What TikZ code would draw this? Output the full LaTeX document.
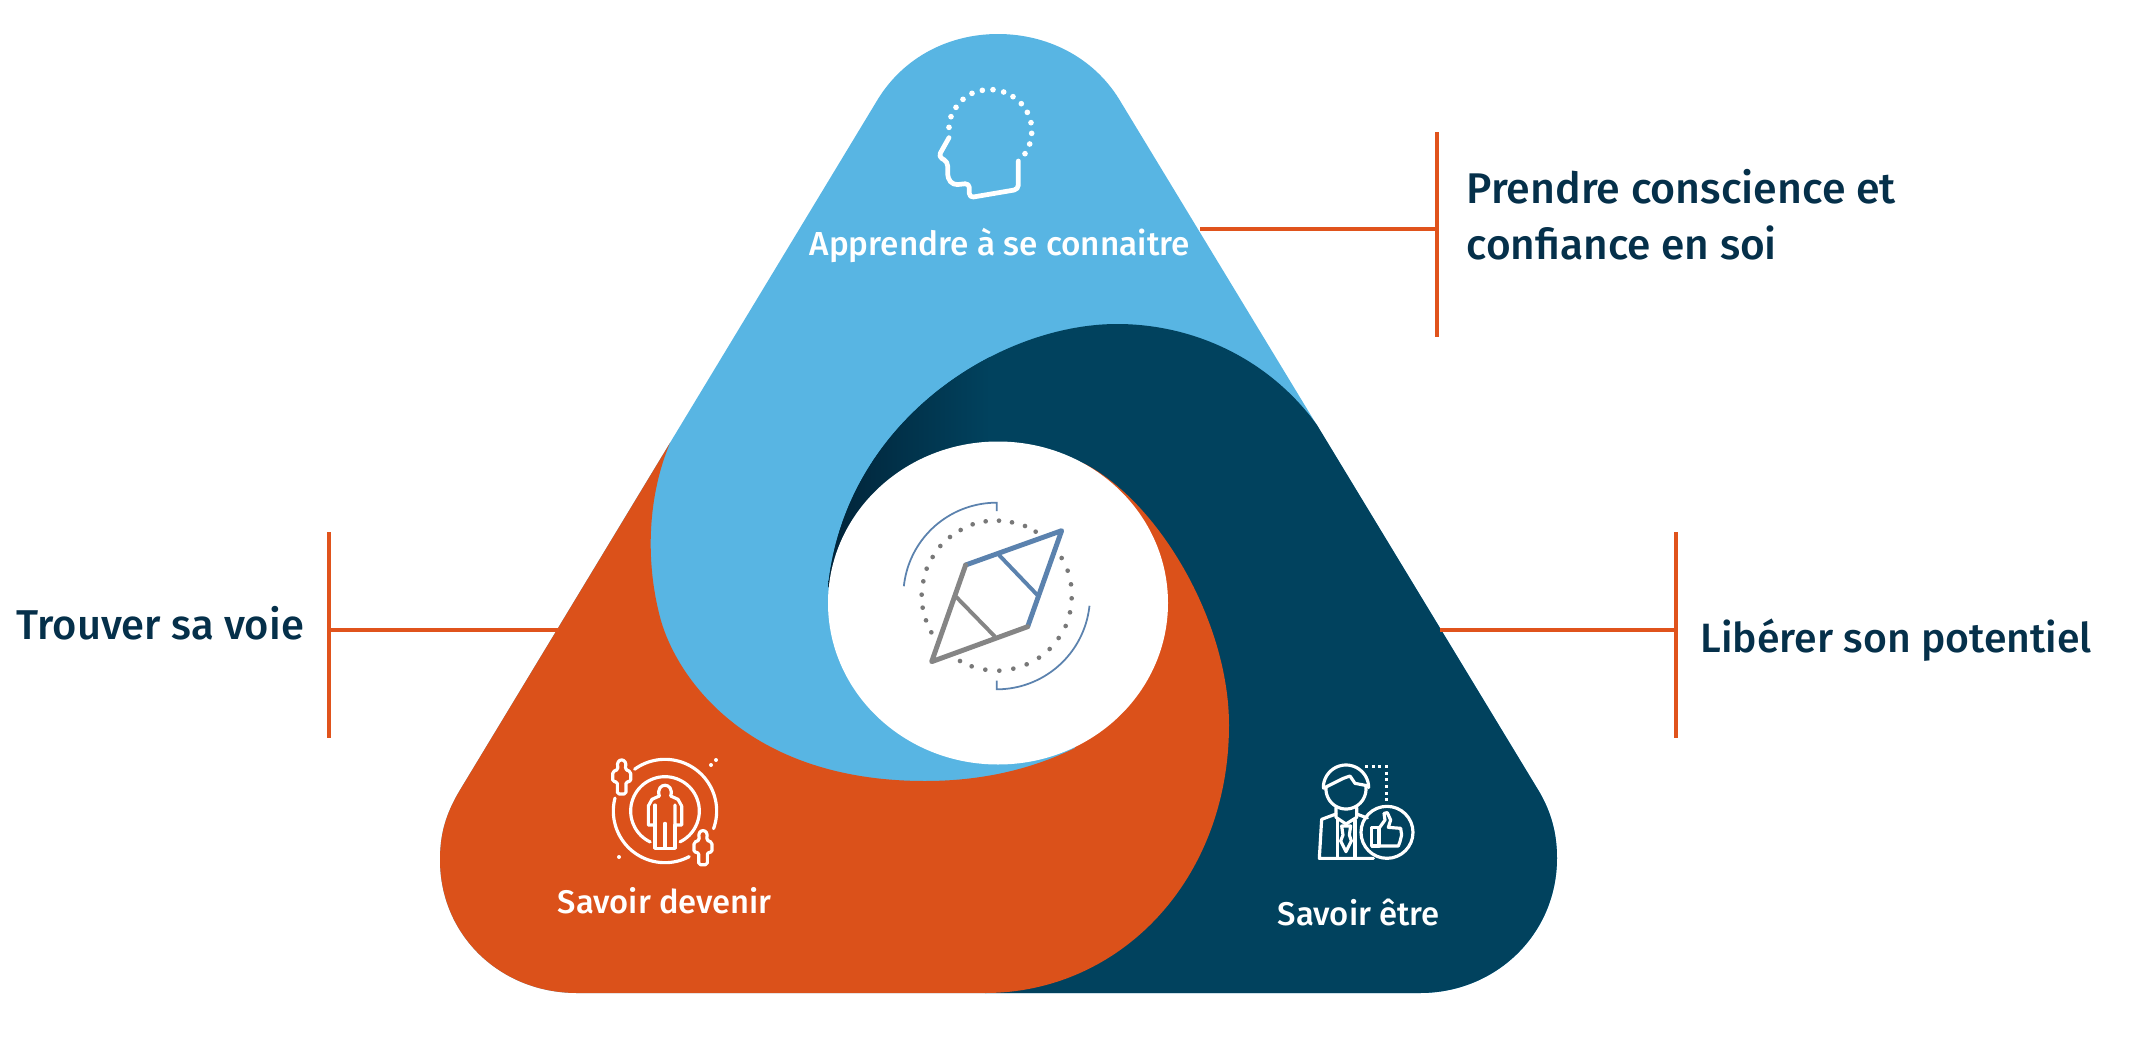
\documentclass[tikz,border=0pt]{standalone}
\usepackage{fontspec}
\usepackage{graphicx}
\setmainfont{Fira Sans Medium}
\definecolor{cblue}{HTML}{58B5E3}
\definecolor{corange}{HTML}{DB511A}
\definecolor{cnavy}{HTML}{01425E}
\definecolor{ctip}{HTML}{012338}
\definecolor{cline}{HTML}{E0531C}
\definecolor{ctext}{HTML}{05304A}
\definecolor{cneedle}{HTML}{5B82AE}
\definecolor{cgrey}{HTML}{858585}
\tikzset{
  bar/.style={draw=cline,line width=1.15pt},
  stub/.style={draw=cline,line width=1.15pt},
  icon/.style={draw=white,line width=0.9pt,line cap=round,line join=round},
  headline/.style={draw=white,line width=1.35pt,line cap=round,line join=round,rounded corners=1.2pt},
  needle/.style={line width=1.4pt,line cap=round,line join=round},
  sidetext/.style={inner sep=0pt,text=ctext,anchor=base west},
  blocktext/.style={inner sep=0pt,text=white,anchor=base west},
}
\newcommand{\fitw}[2]{\resizebox{#1cm}{!}{#2}}
\newcommand{\outerpath}{(878,99) .. controls (904,57) and (949,34) .. (998,34) .. controls (1047,34) and (1093,57) .. (1119,99) -- (1537,788) .. controls (1552,812) and (1557,835) .. (1557,858) .. controls (1557,935) and (1495,993) .. (1420,993) -- (577,993) .. controls (500,993) and (440,935) .. (440,860) .. controls (440,835) and (445,815) .. (460,790) -- cycle}
\newcommand{\navypath}{(1317,425) -- (1537,788) .. controls (1552,812) and (1557,835) .. (1557,858) .. controls (1557,935) and (1495,993) .. (1420,993) -- (985,993) -- (1120,770) -- (1100,600) -- (998,603) -- (828,587) .. controls (845,420) and (1000,324) .. (1117,324) .. controls (1195,324) and (1270,360) .. cycle}
\newcommand{\tinyfig}{%
  \draw[icon,rounded corners=0.5pt] (235,118) .. controls (225,82) and (265,82) .. (255,118) -- (272,125) -- (272,155) -- (258,155) -- (258,192) -- (232,192) -- (232,155) -- (218,155) -- (218,125) -- cycle;}
\begin{document}
\begin{tikzpicture}[x=0.01cm,y=-0.01cm]
\useasboundingbox (0,0) rectangle (2150,1042);
% layers
\fill[cblue] \outerpath;
\fill[cnavy] \navypath;
\begin{scope}
  \clip \navypath;
  \shade[left color=ctip,right color=cnavy] (825,300) rectangle (990,800);
\end{scope}
\fill[corange] (670,443) -- (460,790) .. controls (445,815) and (440,835) .. (440,860) .. controls (440,935) and (500,993) .. (577,993) -- (985,993) .. controls (1120,993) and (1229,880) .. (1229,725) .. controls (1229,620) and (1157,500) .. (1083,463) -- (1100,600) -- (1075,748) .. controls (1030,770) and (980,781) .. (925,781) .. controls (745,781) and (675,675) .. (660,617) .. controls (645,560) and (648,495) .. cycle;
\fill[white] (998,603) ellipse [x radius=170,y radius=161.5];
% connectors
\coordinate (tr1) at (1437,132);
\coordinate (tr2) at (1437,337);
\coordinate (trm) at (1437,229);
\coordinate (tre) at (1200,229);
\coordinate (lf1) at (329,532);
\coordinate (lf2) at (329,738);
\coordinate (lfm) at (329,630);
\coordinate (lfe) at (559,630);
\coordinate (rt1) at (1676,532);
\coordinate (rt2) at (1676,738);
\coordinate (rtm) at (1676,630);
\coordinate (rte) at (1440,630);
\draw[bar] (tr1) -- (tr2);
\draw[stub] (tre) -- (trm);
\draw[bar] (lf1) -- (lf2);
\draw[stub] (lfm) -- (lfe);
\draw[bar] (rt1) -- (rt2);
\draw[stub] (rte) -- (rtm);
% head icon
\begin{scope}[shift={(850,50)},scale=1/3]
  \foreach \p in {(297,232),(303,200),(318,172),(339,148),(366,130),(397,121),(429,119),(461,126),(489,140),(514,161),(532,187),(543,218),(545,250),(539,282),(525,311)}
    \fill[white] \p circle [radius=8.5];
  \draw[headline] (297,263) -- (265,320) -- (293,335) -- (293,385) -- (310,405) -- (358,400) -- (358,443) -- (505,418) -- (505,333);
\end{scope}
% compass
\begin{scope}[shift={(800,420)},scale=1/3]
  \foreach \p in {(597,302),(636,307),(675,318),(707,335),(785,414),(803,452),(813,493),(815,535),(810,577),(797,618),(776,654),(749,687),(717,713),(680,733),(640,746),(598,752),(556,749),(515,739),(480,723),(394,637),(378,601),(368,563),(365,524),(370,484),(380,446),(398,411),(421,378),(450,351),(482,330),(518,313),(557,304)}
    \fill[cgrey!90!black] \p circle [radius=7];
  \draw[cneedle,line width=0.5pt] plot[domain=186:270,samples=40] ({590+280*cos(\x)},{528+280*sin(\x)}) -- (590,273);
  \draw[cneedle,line width=0.5pt] plot[domain=6:90,samples=40] ({590+280*cos(\x)},{528+280*sin(\x)}) -- (590,782);
  \draw[cneedle,needle] (497,435) -- (785,332) -- (683,620);
  \draw[cneedle,line width=1.1pt] (597,405) -- (712,525);
  \draw[cgrey,needle] (497,435) -- (395,725) -- (683,620);
  \draw[cgrey,line width=1.1pt] (468,530) -- (585,650);
\end{scope}
% people icon
\begin{scope}[shift={(540,730)},scale=1/3]
  \draw[icon] plot[domain=234:380,samples=50] ({375+155*cos(\x)},{243+155*sin(\x)});
  \draw[icon] plot[domain=62:194.5,samples=50] ({375+155*cos(\x)},{243+155*sin(\x)});
  \draw[icon] plot[domain=115.6:424,samples=70] ({375+103*cos(\x)},{243+103*sin(\x)});
  \draw[icon] (358,198) .. controls (345,155) and (405,155) .. (392,198) -- (414,208) -- (425,228) -- (425,285) -- (405,285) -- (405,225);
  \draw[icon] (405,285) -- (405,355) -- (345,355) -- (345,225);
  \draw[icon] (345,285) -- (325,285) -- (325,228) -- (336,208) -- (358,198);
  \draw[icon] (375,280) -- (375,355);
  \tinyfig
  \begin{scope}[shift={(244,212)}]\tinyfig\end{scope}
  \fill[white] (513,105) circle [radius=6];
  \fill[white] (528,90) circle [radius=6];
  \fill[white] (237,381) circle [radius=6];
\end{scope}
% business icon
\begin{scope}[shift={(1260,740)},scale=1/3]
  \draw[icon] plot[domain=180:360,samples=40] ({258+68*cos(\x)},{143+68*sin(\x)});
  \draw[icon] plot[domain=-5:185,samples=40] ({258+60*cos(\x)},{147+60*sin(\x)});
  \draw[icon] (190,145) -- (250,115) -- (270,108) -- (285,130) -- (326,138);
  \draw[icon] (228,203) -- (228,232) -- (258,252) -- (290,232) -- (290,203);
  \draw[icon] (245,258) -- (272,258) -- (268,285) -- (274,303) -- (258,335) -- (242,303) -- (249,285) -- cycle;
  \draw[icon] (228,222) -- (185,238) -- (178,355) -- (340,355);
  \draw[icon] (290,222) -- (322,234);
  \draw[icon] (232,235) -- (232,355);
  \draw[icon] (285,240) -- (285,355);
  \draw[icon] (381,277) circle [radius=78];
  \draw[white,line width=0.7pt,dash pattern=on 0.8pt off 1.1pt] (315,80) -- (380,80) -- (380,185);
  \draw[icon] (335,262) rectangle (357,318);
  \draw[icon] (357,265) -- (375,240) -- (372,220) -- (382,218) -- (392,240) -- (385,262) -- (422,265) -- (425,285) -- (420,305) -- (415,318) -- (357,318);
\end{scope}
% texts
\node[blocktext] (t1) at (809,255) {\fitw{3.80}{Apprendre à se connaitre}};
\node[blocktext] (t2) at (557,913) {\fitw{2.14}{Savoir devenir}};
\node[blocktext] (t3) at (1277,925) {\fitw{1.62}{Savoir être}};
\node[sidetext] (t4) at (1466,203) {\fitw{4.29}{Prendre conscience et}};
\node[sidetext] (t5) at (1466,259) {\fitw{3.10}{confiance en soi}};
\node[sidetext] (t6) at (16,639) {\fitw{2.87}{Trouver sa voie}};
\node[sidetext] (t7) at (1700,652) {\fitw{3.91}{Libérer son potentiel}};
\end{tikzpicture}
\end{document}
